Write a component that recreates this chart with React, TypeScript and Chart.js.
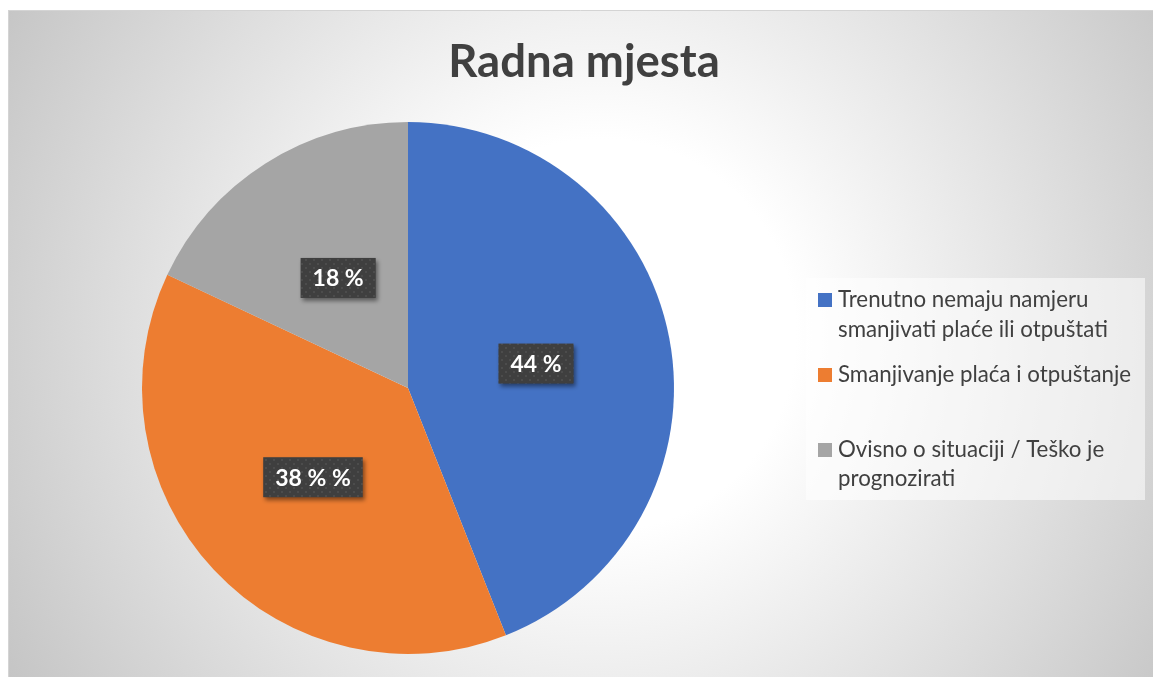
import React, { useEffect, useRef } from "react";
import { Chart, registerables } from "chart.js";

Chart.register(...registerables);

const categories = [
  "Trenutno nemaju namjeru smanjivati plaće ili otpuštati",
  "Smanjivanje plaća i otpuštanje",
  "Ovisno o situaciji / Teško je prognozirati",
];
const legendLines = [
  ["Trenutno nemaju namjeru", "smanjivati plaće ili otpuštati"],
  ["Smanjivanje plaća i otpuštanje"],
  ["Ovisno o situaciji / Teško je", "prognozirati"],
];
const values = [44, 38, 18];
const valueLabels = ["44 %", "38 % %", "18 %"];
const colors = ["#4472C4", "#ED7D31", "#A5A5A5"];
const titleText = "Radna mjesta";

const FONT = "Lato, 'Open Sans', sans-serif";

function makePattern(ctx: CanvasRenderingContext2D) {
  const c = document.createElement("canvas");
  c.width = 8;
  c.height = 8;
  const p = c.getContext("2d")!;
  p.fillStyle = "#3f3f3f";
  p.fillRect(0, 0, 8, 8);
  p.fillStyle = "#4c4c4c";
  p.fillRect(1, 1, 2, 2);
  p.fillRect(5, 5, 2, 2);
  return ctx.createPattern(c, "repeat");
}

const decorPlugin = {
  id: "decor",
  beforeDraw(chart: any) {
    const ctx: CanvasRenderingContext2D = chart.ctx;
    const w = chart.width;
    const h = chart.height;
    ctx.save();
    const g = ctx.createRadialGradient(592, 325, 0, 592, 325, 700);
    g.addColorStop(0, "#ffffff");
    g.addColorStop(0.28, "#ffffff");
    g.addColorStop(1, "#c3c3c3");
    ctx.fillStyle = g;
    ctx.fillRect(0, 0, w, h);
    ctx.strokeStyle = "#d4d4d4";
    ctx.lineWidth = 1;
    ctx.beginPath();
    ctx.moveTo(0, 0.5);
    ctx.lineTo(w, 0.5);
    ctx.moveTo(0.5, 0);
    ctx.lineTo(0.5, h);
    ctx.stroke();

    // title
    ctx.fillStyle = "#404040";
    ctx.font = `bold 45.5px ${FONT}`;
    ctx.textAlign = "center";
    ctx.textBaseline = "alphabetic";
    ctx.fillText(titleText, 576, 67);

    // legend
    ctx.fillStyle = "rgba(255,255,255,0.55)";
    ctx.fillRect(798, 268, 339, 222);
    const baselines = [[297, 327], [372], [447, 476]];
    ctx.font = `22.3px ${FONT}`;
    ctx.textAlign = "left";
    legendLines.forEach((lines, i) => {
      ctx.fillStyle = colors[i];
      const b0 = baselines[i][0];
      ctx.fillRect(810, b0 - 14, 14, 14);
      ctx.fillStyle = "#404040";
      lines.forEach((ln, j) => {
        ctx.fillText(ln, 830, baselines[i][j]);
      });
    });
    ctx.restore();
  },
  afterDatasetsDraw(chart: any) {
    const ctx: CanvasRenderingContext2D = chart.ctx;
    const meta = chart.getDatasetMeta(0);
    const pattern = makePattern(ctx);
    ctx.save();
    ctx.font = `bold 23px ${FONT}`;
    meta.data.forEach((arc: any, i: number) => {
      const p = arc.getProps(["x", "y", "startAngle", "endAngle", "outerRadius"], true);
      const mid = (p.startAngle + p.endAngle) / 2;
      const r = p.outerRadius * 0.49;
      const cx = p.x + Math.cos(mid) * r;
      const cy = p.y + Math.sin(mid) * r;
      const txt = valueLabels[i];
      const tw = ctx.measureText(txt).width;
      const bw = tw + 24;
      const bh = 40;
      ctx.save();
      ctx.shadowColor = "rgba(0,0,0,0.45)";
      ctx.shadowBlur = 4;
      ctx.shadowOffsetX = 2;
      ctx.shadowOffsetY = 3;
      ctx.fillStyle = pattern || "#404040";
      ctx.fillRect(cx - bw / 2, cy - bh / 2, bw, bh);
      ctx.restore();
      ctx.fillStyle = "#ffffff";
      ctx.textAlign = "center";
      ctx.textBaseline = "middle";
      ctx.fillText(txt, cx, cy + 1);
    });
    ctx.restore();
  },
};

export default function App() {
  const ref = useRef<HTMLCanvasElement>(null);
  useEffect(() => {
    if (!ref.current) return;
    const chart = new Chart(ref.current, {
      type: "pie",
      data: {
        labels: categories,
        datasets: [
          {
            data: values,
            backgroundColor: colors,
            borderWidth: 0,
          },
        ],
      },
      options: {
        responsive: true,
        maintainAspectRatio: false,
        animation: false,
        layout: { padding: { top: 112, bottom: 23, left: 134, right: 479 } },
        plugins: {
          legend: { display: false },
          title: { display: false },
          tooltip: { enabled: false },
        },
      },
      plugins: [decorPlugin],
    });
    return () => chart.destroy();
  }, []);
  return (
    <div style={{ position: "fixed", left: 8, top: 10, width: 1145, height: 667 }}>
      <canvas ref={ref} />
    </div>
  );
}
